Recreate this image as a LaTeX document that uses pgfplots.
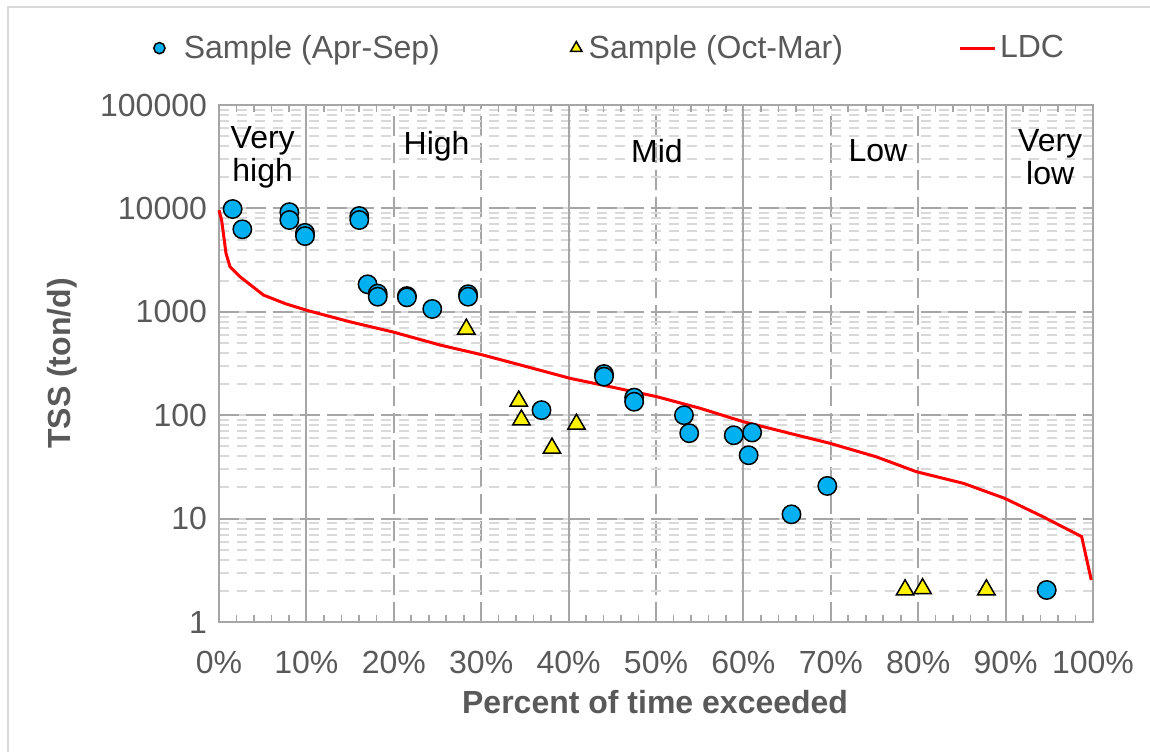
\documentclass[border=0pt]{standalone}
\usepackage{fontspec}
\setmainfont{Liberation Sans}
\usepackage{pgfplots}
\pgfplotsset{compat=1.18}
\definecolor{txtgray}{HTML}{595959}
\definecolor{gridmaj}{HTML}{A6A6A6}
\definecolor{gridmin}{HTML}{D9D9D9}
\definecolor{ptblue}{HTML}{00B0F0}
\newcommand{\fs}{\fontsize{16}{16.5}\selectfont}
\pgfplotsset{
  circleg/.style={legend image code/.code={\path (-10pt,0) (10pt,0);
    \draw[##1, mark size=2.8pt] plot coordinates {(0pt,0pt)};}},
  trileg/.style={legend image code/.code={\path (-10pt,0) (4pt,0);
    \draw[##1, mark size=3.3pt] plot coordinates {(0pt,0pt)};}},
}
\begin{document}
\begin{tikzpicture}
\useasboundingbox (-109.5pt,-64.5pt) rectangle (465.5pt,311pt);
\draw[gridmin, line width=1pt] (-105.5pt,-70pt) -- (-105.5pt,307.5pt) -- (470pt,307.5pt);
\begin{axis}[
  at={(0,0)}, anchor=south west,
  scale only axis, width=437pt, height=258.5pt,
  xmin=0, xmax=100, ymode=log, ymin=1, ymax=100000,
  xtick={0,10,...,100},
  xticklabels={0\%,10\%,20\%,30\%,40\%,50\%,60\%,70\%,80\%,90\%,100\%},
  ytick={1,10,100,1000,10000,100000},
  yticklabels={1,10,100,1000,10000,100000},
  minor x tick num=4,
  extra x ticks={10,40,60,90}, extra x tick labels={},
  extra x tick style={grid=major, major grid style={solid, gridmaj, line width=1pt}},
  xmajorgrids, ymajorgrids, yminorgrids,
  major grid style={gridmaj, line width=1pt, dash pattern=on 10pt off 3.5pt},
  minor grid style={gridmin, line width=1pt, dash pattern=on 5pt off 4pt},
  tick align=inside, major tick length=0pt, minor tick length=3.5pt,
  tick style={gridmaj, line width=0.8pt},
  every minor y tick/.append style={draw=none},
  axis line style={gridmaj, line width=1pt},
  /pgf/number format/assume math mode=true,
  ticklabel style={font=\fs, text=txtgray},
  xticklabel style={anchor=base, yshift=-25.5pt},
  yticklabel style={anchor=east, xshift=-2.5pt},
  xlabel={Percent of time exceeded},
  ylabel={TSS (ton/d)},
  label style={font=\fs\bfseries, text=txtgray},
  xlabel style={at={(axis description cs:0.499,-0.1547)}, anchor=center},
  ylabel style={at={(axis description cs:-0.1796,0.5)}, anchor=center},
  legend style={at={(axis description cs:0.44,1.11)}, anchor=center, draw=none, fill=none,
    font=\fs, text=txtgray, /tikz/every even column/.append style={column sep=56pt}},
  legend columns=3,
  clip=false,
]
\addplot[red, line width=1.5pt, forget plot] coordinates {
(0,9600) (0.3,7700) (0.5,5750) (0.8,3680) (1.26,2730) (2.4,2185) (5.1,1450) (7.7,1190)
(10.2,1025) (15,800) (20,635) (25.3,477) (30.2,382) (35,298) (40.2,227) (45.1,186)
(50.1,151) (55,117) (60,86.5) (65.3,66.8) (69.9,53.5) (75.2,39.6) (79.8,28.4)
(85.2,21.9) (89.9,15.7) (94.3,10.4) (98.7,6.7) (99.8,2.55)
};
\addplot[only marks, mark=*, mark size=4.6pt,
  mark options={fill=ptblue, draw=black, line width=0.75pt}, circleg] coordinates {
(1.56,9860) (2.67,6280) (8.05,9200) (8.05,7720) (9.84,5800) (9.84,5400)
(16.05,8440) (16.05,7720) (17.0,1845) (18.16,1500) (18.16,1400) (21.5,1420) (21.5,1380)
(24.4,1065) (28.5,1480) (28.5,1400) (36.9,112) (44.05,250) (44.05,236)
(47.5,148) (47.5,135) (53.2,100) (53.8,67) (58.9,64) (61.0,68) (60.6,41)
(65.5,11) (69.6,20.7) (94.7,2.04)
};
\addplot[only marks, mark=triangle*, mark size=5pt,
  mark options={fill=yellow, draw=black, line width=0.75pt}, trileg] coordinates {
(28.3,680) (34.3,137) (34.6,90) (38.1,48) (40.9,82) (78.5,2.05) (80.5,2.1) (87.8,2.05)
};
\addlegendimage{red, line width=1.5pt}
\legend{Sample (Apr-Sep), Sample (Oct-Mar), LDC}
\node[font=\fs, align=center] at (axis cs:5,31000) {Very\\high};
\node[font=\fs] at (axis cs:24.9,40000) {High};
\node[font=\fs] at (axis cs:50.1,36000) {Mid};
\node[font=\fs] at (axis cs:75.4,36000) {Low};
\node[font=\fs, align=center] at (axis cs:95.1,31000) {Very\\low};
\end{axis}
\end{tikzpicture}
\end{document}
